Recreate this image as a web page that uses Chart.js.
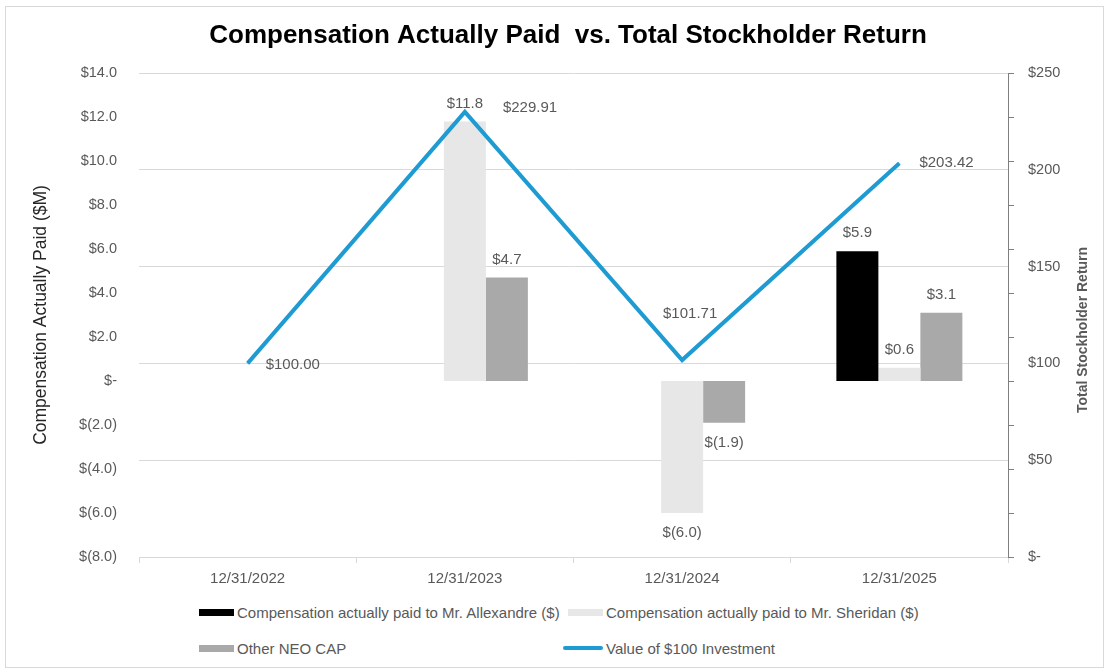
<!DOCTYPE html>
<html>
<head>
<meta charset="utf-8">
<title>Compensation Actually Paid vs. Total Stockholder Return</title>
<script src="https://cdn.jsdelivr.net/npm/chart.js@4.4.1/dist/chart.umd.min.js"></script>
<style>
  body { margin: 0; background: #fff; font-family: "Liberation Sans", Arial, sans-serif; }
  #frame { position: absolute; left: 5px; top: 6px; width: 1097px; height: 660px; border: 1px solid #d9d9d9; }
  #wrap { position: absolute; left: 0; top: 0; width: 1109px; height: 597px; }
  #legend { position: absolute; left: 194px; top: 601px; display: grid; grid-template-columns: 369px 420px; row-gap: 14px; font-size: 15px; color: #595959; }
  .item { display: flex; align-items: center; height: 22px; white-space: nowrap; }
  .swbox { width: 40px; display: flex; justify-content: flex-end; margin-right: 3px; }
  .sw { width: 35px; height: 7px; }
  .sw.line { width: 40px; height: 4px; border-radius: 2px; }
</style>
</head>
<body>
<div id="frame"></div>
<div id="wrap"><canvas id="capChart"></canvas></div>
<div id="legend"></div>
<script>
// Data
const years = ['12/31/2022', '12/31/2023', '12/31/2024', '12/31/2025'];
const capAlexandre = [null, null, null, 5.9];
const capSheridan = [null, 11.8, -6.0, 0.6];
const capOtherNeo = [null, 4.7, -1.9, 3.1];
const tsrValue = [100.00, 229.91, 101.71, 203.42];

const labelColor = '#595959';
const gridColor = '#d9d9d9';
const fontFamily = '"Liberation Sans", Arial, sans-serif';

// where each TSR label sits relative to its point
const tsrLabelPos = [
    { align: 'left', dx: 18, dy: 1 },
    { align: 'left', dx: 38, dy: -4 },
    { align: 'center', dx: 8, dy: -46 },
    { align: 'left', dx: 20, dy: 0 }
];

function fmtCap(v) {
    v = Math.round(v * 10) / 10;
    if (v === 0) return '$-';
    return v < 0 ? '$(' + Math.abs(v).toFixed(1) + ')' : '$' + v.toFixed(1);
}

function fmtTsr(v) {
    return v === 0 ? '$-' : '$' + v;
}

// value labels for bars and line points
const valueLabels = {
    id: 'valueLabels',
    afterDatasetsDraw: function(chart) {
        const ctx = chart.ctx;
        ctx.save();
        ctx.font = '15px ' + fontFamily;
        ctx.fillStyle = labelColor;
        ctx.textBaseline = 'middle';
        chart.data.datasets.forEach(function(ds, i) {
            const meta = chart.getDatasetMeta(i);
            meta.data.forEach(function(el, j) {
                const v = ds.data[j];
                if (v === null) return;
                if (ds.type === 'line') {
                    const p = tsrLabelPos[j];
                    ctx.textAlign = p.align;
                    ctx.fillText('$' + v.toFixed(2), el.x + p.dx, el.y + p.dy);
                } else {
                    ctx.textAlign = 'center';
                    ctx.fillText(fmtCap(v), el.x, v >= 0 ? el.y - 18 : el.y + 20);
                }
            });
        });
        ctx.restore();
    }
};

// right axis: tick marks follow the left scale, title reads upward
const rightAxisExtras = {
    id: 'rightAxisExtras',
    afterDraw: function(chart) {
        const ctx = chart.ctx;
        const area = chart.chartArea;
        const yScale = chart.scales.y;
        ctx.save();
        ctx.strokeStyle = '#7f7f7f';
        ctx.lineWidth = 1;
        for (let v = -8; v <= 14; v += 2) {
            const y = Math.round(yScale.getPixelForValue(v)) + 0.5;
            ctx.beginPath();
            ctx.moveTo(area.right, y);
            ctx.lineTo(area.right + 6, y);
            ctx.stroke();
        }
        ctx.translate(1083, 330);
        ctx.rotate(-Math.PI / 2);
        ctx.font = 'bold 14px ' + fontFamily;
        ctx.fillStyle = labelColor;
        ctx.textAlign = 'center';
        ctx.textBaseline = 'middle';
        ctx.fillText('Total Stockholder Return', 0, 0);
        ctx.restore();
    }
};

const ctx = document.getElementById('capChart').getContext('2d');
const capChart = new Chart(ctx, {
    type: 'bar',
    data: {
        labels: years,
        datasets: [
            {
                type: 'line',
                label: 'Value of $100 Investment',
                data: tsrValue,
                yAxisID: 'y1',
                borderColor: '#1e9bd2',
                backgroundColor: '#1e9bd2',
                borderWidth: 4,
                pointRadius: 0,
                tension: 0,
                order: 0
            },
            {
                label: 'Compensation actually paid to Mr. Allexandre ($)',
                data: capAlexandre,
                backgroundColor: '#000000',
                yAxisID: 'y',
                order: 1
            },
            {
                label: 'Compensation actually paid to Mr. Sheridan ($)',
                data: capSheridan,
                backgroundColor: '#e7e7e7',
                yAxisID: 'y',
                order: 1
            },
            {
                label: 'Other NEO CAP',
                data: capOtherNeo,
                backgroundColor: '#a9a9a9',
                yAxisID: 'y',
                order: 1
            }
        ]
    },
    options: {
        responsive: true,
        maintainAspectRatio: false,
        animation: false,
        datasets: {
            bar: { categoryPercentage: 0.58, barPercentage: 1.0 }
        },
        layout: { padding: { left: 27, right: 0, top: 0, bottom: 0 } },
        scales: {
            x: {
                grid: { display: true, drawOnChartArea: false, drawTicks: true, tickLength: 6, color: gridColor },
                border: { display: true, color: gridColor },
                ticks: { color: labelColor, font: { size: 15, family: fontFamily }, padding: 7 },
                afterFit: function(scale) { scale.height = 40; }
            },
            y: {
                position: 'left',
                min: -8,
                max: 14,
                ticks: {
                    stepSize: 2,
                    color: labelColor,
                    font: { size: 14.5, family: fontFamily },
                    padding: 14,
                    callback: function(v) { return fmtCap(v); }
                },
                grid: { display: false },
                border: { display: false },
                title: {
                    display: true,
                    text: 'Compensation Actually Paid ($M)',
                    color: '#262626',
                    font: { size: 17.5, family: fontFamily }
                },
                afterFit: function(scale) { scale.width = 112; }
            },
            y1: {
                position: 'right',
                min: 0,
                max: 250,
                ticks: {
                    stepSize: 50,
                    color: labelColor,
                    font: { size: 14.5, family: fontFamily },
                    padding: 20,
                    callback: function(v) { return fmtTsr(v); }
                },
                grid: { color: gridColor, drawTicks: false },
                border: { display: true, color: '#7f7f7f' },
                afterFit: function(scale) { scale.width = 101; }
            }
        },
        plugins: {
            title: {
                display: true,
                text: 'Compensation Actually Paid  vs. Total Stockholder Return',
                color: '#000000',
                font: { size: 26, weight: 'bold', family: fontFamily },
                padding: { top: 20, bottom: 21.8 }
            },
            legend: { display: false },
            tooltip: { enabled: false }
        }
    },
    plugins: [valueLabels, rightAxisExtras]
});

// HTML legend built from the datasets, two columns like the original
const legendOrder = [1, 2, 3, 0];
const legendEl = document.getElementById('legend');
legendOrder.forEach(function(i) {
    const ds = capChart.data.datasets[i];
    const item = document.createElement('div');
    item.className = 'item';
    const box = document.createElement('span');
    box.className = 'swbox';
    const sw = document.createElement('span');
    sw.className = ds.type === 'line' ? 'sw line' : 'sw';
    sw.style.background = ds.type === 'line' ? ds.borderColor : ds.backgroundColor;
    box.appendChild(sw);
    item.appendChild(box);
    item.appendChild(document.createTextNode(ds.label));
    legendEl.appendChild(item);
});
</script>
</body>
</html>
